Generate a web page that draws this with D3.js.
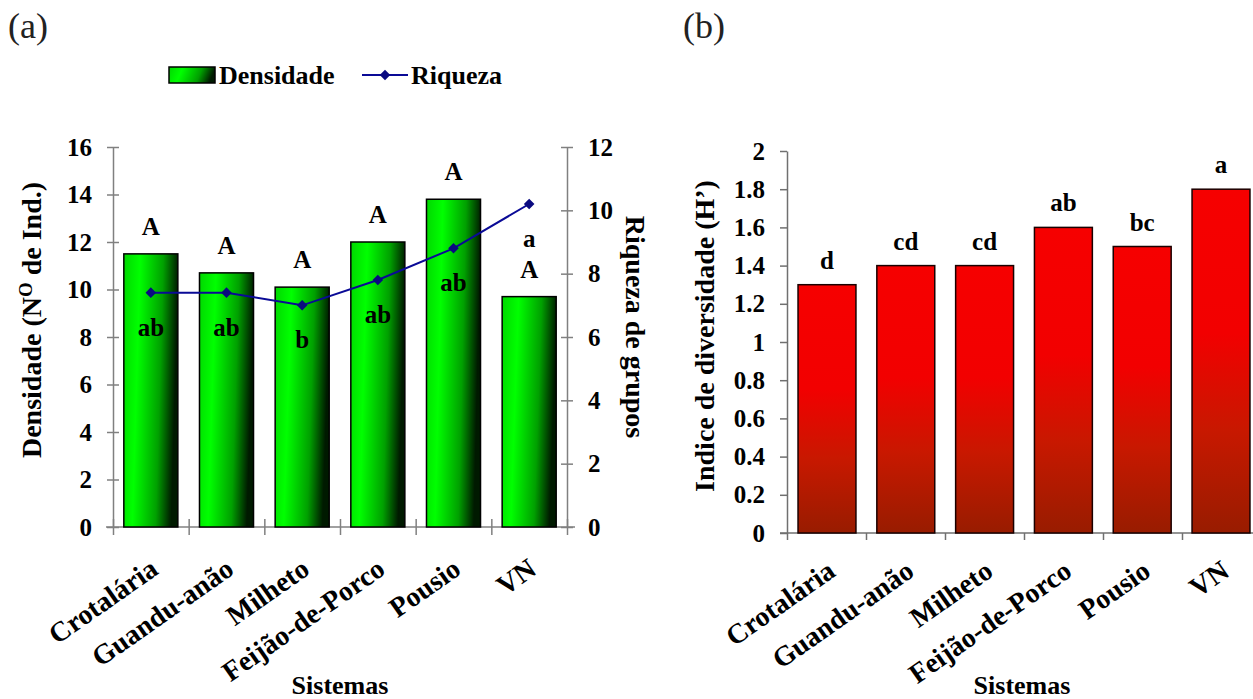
<!DOCTYPE html>
<html><head><meta charset="utf-8">
<script src="https://cdn.jsdelivr.net/npm/d3@7"></script>
<style>
body{margin:0;background:#fff}
svg{display:block}
svg text{font-family:"Liberation Serif",Tinos,"Times New Roman","DejaVu Serif",serif !important;font-weight:bold;fill:#000}
</style>
</head><body>
<svg id="c" width="1253" height="699"></svg>
<script>
// ---------- data ----------
const categories = ["Crotalária","Guandu-anão","Milheto","Feijão-de-Porco","Pousio","VN"];
const densidade = [11.5, 10.7, 10.1, 12.0, 13.8, 9.7];
const densidadeLetters = ["A","A","A","A","A","A"];
const riqueza = [7.4, 7.4, 7.0, 7.8, 8.8, 10.2];
const riquezaLetters = ["ab","ab","b","ab","ab","a"];
const diversidade = [1.3, 1.4, 1.4, 1.6, 1.5, 1.8];
const diversidadeLetters = ["d","cd","cd","ab","bc","a"];
const densTicks = [0,2,4,6,8,10,12,14,16];
const riqTicks = [0,2,4,6,8,10,12];
const divTicks = [0,0.2,0.4,0.6,0.8,1,1.2,1.4,1.6,1.8,2];
const divTickLabels = ["0","0.2","0.4","0.6","0.8","1","1.2","1.4","1.6","1.8","2"];

const FONT = '"Liberation Serif", Tinos, "Times New Roman", "DejaVu Serif", serif';
const svg = d3.select("#c").attr("font-family", FONT);
const defs = svg.append("defs");

const gg = defs.append("linearGradient").attr("id","gGreen")
  .attr("x1",0).attr("y1",0).attr("x2",1).attr("y2",0.15);
[[0,"#00d800"],[0.3,"#00ff00"],[0.72,"#00a000"],[1,"#001a00"]].forEach(s=>
  gg.append("stop").attr("offset",s[0]).attr("stop-color",s[1]));

const gr = defs.append("linearGradient").attr("id","gRed")
  .attr("x1",0).attr("y1",0).attr("x2",0).attr("y2",1);
[[0,"#f60000"],[0.42,"#f20000"],[0.7,"#c81800"],[1,"#981c00"]].forEach(s=>
  gr.append("stop").attr("offset",s[0]).attr("stop-color",s[1]));

const AXC = "#808080";
function styleText(sel, size){
  sel.attr("font-family", FONT).attr("font-weight","bold").attr("font-size", size)
     .attr("fill","#000");
}

// ---------- panel (a) ----------
const xL = d3.scaleBand().domain(categories).range([113,567]).paddingInner(0.286).paddingOuter(0.143);
const yL = d3.scaleLinear().domain([0,16]).range([527,147]);
const yR = d3.scaleLinear().domain([0,12]).range([527,147]);
const bnd = d3.scaleLinear().domain([0,6]).range([113,567]);

svg.append("text").text("(a)").attr("x",8).attr("y",38)
  .attr("style","font-weight:normal !important;font-size:36px;fill:#222");

// axes
const axL = svg.append("g").attr("transform","translate(113,0)")
  .call(d3.axisLeft(yL).tickValues(densTicks).tickSize(6).tickSizeOuter(0).tickPadding(15));
const axR = svg.append("g").attr("transform","translate(567,0)")
  .call(d3.axisRight(yR).tickValues(riqTicks).tickSize(6).tickSizeOuter(0).tickPadding(15));
const axB = svg.append("g").attr("transform","translate(0,527)")
  .call(d3.axisBottom(bnd).tickValues([0,1,2,3,4,5,6]).tickFormat("").tickSize(8).tickSizeOuter(0));
axB.select(".domain").attr("d","M106,0H575");
axB.selectAll(".tick line").attr("y1",-8).attr("y2",8);
axL.selectAll(".tick line").attr("x1",-6).attr("x2",6);
axR.selectAll(".tick line").attr("x1",-6).attr("x2",6);
[axL,axR,axB].forEach(a=>{
  a.attr("font-family", FONT);
  a.selectAll("path,line").attr("stroke",AXC).attr("stroke-width",1.5);
  styleText(a.selectAll("text"), 25);
});

// bars
svg.append("g").selectAll("rect").data(categories).join("rect")
  .attr("x",d=>xL(d)).attr("width",xL.bandwidth())
  .attr("y",(d,i)=>yL(densidade[i])).attr("height",(d,i)=>yL(0)-yL(densidade[i]))
  .attr("fill","url(#gGreen)").attr("stroke","#000").attr("stroke-width",1.5);

// category labels
const labA = svg.append("g").attr("transform","translate(0,527)")
  .call(d3.axisBottom(xL).tickSize(0).tickPadding(0));
labA.attr("font-family", FONT);
labA.select(".domain").remove();
labA.selectAll("text").attr("x",0).attr("y",0).attr("dy",0)
  .attr("text-anchor","end").attr("transform","translate(9,46) rotate(-35)");
styleText(labA.selectAll("text"), 28);

// letters above bars
styleText(svg.append("g").selectAll("text").data(categories).join("text")
  .attr("x",d=>xL(d)+xL.bandwidth()/2).attr("y",(d,i)=>yL(densidade[i])-19)
  .attr("text-anchor","middle").text((d,i)=>densidadeLetters[i]), 25);

// line
const line = d3.line().x((d,i)=>xL(categories[i])+xL.bandwidth()/2).y(d=>yR(d));
svg.append("path").datum(riqueza).attr("d",line).attr("fill","none")
  .attr("stroke","#0a0a96").attr("stroke-width",2);
svg.append("g").selectAll("path").data(riqueza).join("path")
  .attr("d",d3.symbol(d3.symbolSquare,56))
  .attr("transform",(d,i)=>`translate(${xL(categories[i])+xL.bandwidth()/2},${yR(d)}) rotate(45)`)
  .attr("fill","#0a0a80");
styleText(svg.append("g").selectAll("text").data(riqueza).join("text")
  .attr("x",(d,i)=>xL(categories[i])+xL.bandwidth()/2).attr("y",d=>yR(d)+43)
  .attr("text-anchor","middle").text((d,i)=>riquezaLetters[i]), 25);

// titles
const tL = svg.append("text").attr("transform","translate(41,320) rotate(-90)")
  .attr("text-anchor","middle");
styleText(tL, 28);
tL.append("tspan").text("Densidade (N");
tL.append("tspan").text("O").attr("font-size",19).attr("dy",-9);
tL.append("tspan").text(" de Ind.)").attr("dy",9);
styleText(svg.append("text").attr("transform","translate(626,327) rotate(90)")
  .attr("text-anchor","middle").text("Riqueza de grupos"), 28);
styleText(svg.append("text").attr("x",340).attr("y",694).attr("text-anchor","middle")
  .text("Sistemas"), 26);

// legend
svg.append("rect").attr("x",169).attr("y",67).attr("width",46).attr("height",16)
  .attr("fill","url(#gGreen)").attr("stroke","#000").attr("stroke-width",1.5);
styleText(svg.append("text").attr("x",219).attr("y",84).text("Densidade"), 26);
svg.append("line").attr("x1",362).attr("x2",408).attr("y1",75).attr("y2",75)
  .attr("stroke","#0a0a96").attr("stroke-width",2);
svg.append("path").attr("d",d3.symbol(d3.symbolSquare,56))
  .attr("transform","translate(385,75) rotate(45)").attr("fill","#0a0a80");
styleText(svg.append("text").attr("x",411).attr("y",84).text("Riqueza"), 26);

// ---------- panel (b) ----------
const xB = d3.scaleBand().domain(categories).range([787,1261]).paddingInner(0.265).paddingOuter(0.14);
const yB = d3.scaleLinear().domain([0,2]).range([533,151]);
const bndB = d3.scaleLinear().domain([0,6]).range([787,1261]);

svg.append("text").text("(b)").attr("x",683).attr("y",38)
  .attr("style","font-weight:normal !important;font-size:36px;fill:#222");

const axBL = svg.append("g").attr("transform","translate(787,0)")
  .call(d3.axisLeft(yB).tickValues(divTicks).tickFormat((d,i)=>divTickLabels[i])
    .tickSize(7).tickSizeOuter(0).tickPadding(15));
const axBB = svg.append("g").attr("transform","translate(0,533)")
  .call(d3.axisBottom(bndB).tickValues([0,1,2,3,4,5,6]).tickFormat("").tickSize(7).tickSizeOuter(0));
axBB.select(".domain").attr("d","M780,0H1261");
[axBL,axBB].forEach(a=>{
  a.attr("font-family", FONT);
  a.selectAll("path,line").attr("stroke","#707070").attr("stroke-width",1.5);
  styleText(a.selectAll("text"), 25);
});

svg.append("g").selectAll("rect").data(categories).join("rect")
  .attr("x",d=>xB(d)).attr("width",xB.bandwidth())
  .attr("y",(d,i)=>yB(diversidade[i])).attr("height",(d,i)=>yB(0)-yB(diversidade[i]))
  .attr("fill","url(#gRed)").attr("stroke","#1a0000").attr("stroke-width",1.5);

styleText(svg.append("g").selectAll("text").data(categories).join("text")
  .attr("x",d=>xB(d)+xB.bandwidth()/2).attr("y",(d,i)=>yB(diversidade[i])-16)
  .attr("text-anchor","middle").text((d,i)=>diversidadeLetters[i]), 25);

const labB = svg.append("g").attr("transform","translate(0,533)")
  .call(d3.axisBottom(xB).tickSize(0).tickPadding(0));
labB.attr("font-family", FONT);
labB.select(".domain").remove();
labB.selectAll("text").attr("x",0).attr("y",0).attr("dy",0)
  .attr("text-anchor","end").attr("transform","translate(10,42) rotate(-35)");
styleText(labB.selectAll("text"), 28);

styleText(svg.append("text").attr("transform","translate(714,336) rotate(-90)")
  .attr("text-anchor","middle").text("Indice de diversidade (H’)"), 28);
styleText(svg.append("text").attr("x",1022).attr("y",694).attr("text-anchor","middle")
  .text("Sistemas"), 26);
</script>
</body></html>
